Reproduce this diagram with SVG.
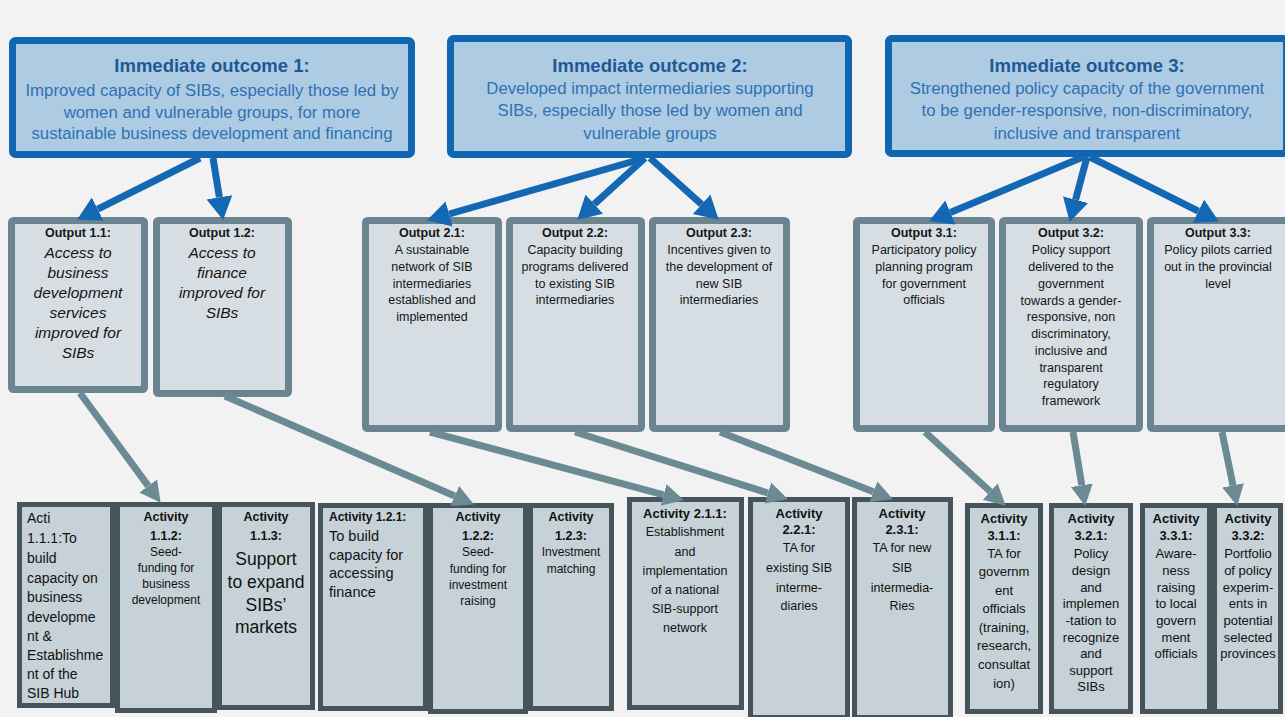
<svg xmlns="http://www.w3.org/2000/svg" width="1285" height="717" viewBox="0 0 1285 717">
<defs>
<marker id="bh" markerUnits="userSpaceOnUse" markerWidth="24" markerHeight="28" refX="0" refY="13" orient="auto" viewBox="0 0 24 26">
<path d="M0,0 L23,13 L0,26 z" fill="#1467b3"/>
</marker>
<marker id="gh" markerUnits="userSpaceOnUse" markerWidth="22" markerHeight="24" refX="0" refY="11" orient="auto" viewBox="0 0 22 22">
<path d="M0,0 L21,11 L0,22 z" fill="#6b8a94"/>
</marker>
</defs>
<style>
text{font-family:"Liberation Sans",Arial,sans-serif;}
.oc{fill:#aecbe4;stroke:#1166b1;stroke-width:7;}
.ot{fill:#1c5a93;font-size:18.5px;font-weight:bold;text-anchor:middle;}
.ob{fill:#2e72b3;font-size:16.8px;text-anchor:middle;}
.op{fill:#d7dee3;stroke:#6b8590;stroke-width:7;}
.pt{fill:#151515;font-size:12.5px;font-weight:bold;text-anchor:middle;}
.pb{fill:#151515;font-size:12.5px;text-anchor:middle;}
.pi{fill:#151515;font-size:15.5px;font-style:italic;text-anchor:middle;}
.ac{fill:#c6d1d8;stroke:#46555c;stroke-width:5;}
.at{fill:#111;font-size:12.5px;font-weight:bold;text-anchor:middle;}
.ab{fill:#111;font-size:12px;text-anchor:middle;}
.a3{fill:#111;font-size:13px;text-anchor:middle;}
.bl{stroke:#1467b3;stroke-width:7;fill:none;marker-end:url(#bh);}
.gl{stroke:#6b8a94;stroke-width:7;fill:none;marker-end:url(#gh);}
</style>
<rect x="0" y="0" width="1285" height="717" fill="#f2f2f2"/>

<g id="outcome1">
<rect class="oc" x="12.5" y="40.5" width="399" height="114" rx="3"/>
<text class="ot" x="212" y="72">Immediate outcome 1:</text>
<text class="ob" x="212" y="96">Improved capacity of SIBs, especially those led by</text>
<text class="ob" x="212" y="118">women and vulnerable groups, for more</text>
<text class="ob" x="212" y="139">sustainable business development and financing</text>
</g>
<g id="outcome2">
<rect class="oc" x="450.5" y="38.5" width="398" height="116" rx="3"/>
<text class="ot" x="650" y="72">Immediate outcome 2:</text>
<text class="ob" x="650" y="94">Developed impact intermediaries supporting</text>
<text class="ob" x="650" y="116">SIBs, especially those led by women and</text>
<text class="ob" x="650" y="139">vulnerable groups</text>
</g>
<g id="outcome3">
<rect class="oc" x="888.5" y="38.5" width="398" height="115" rx="3"/>
<text class="ot" x="1087" y="72">Immediate outcome 3:</text>
<text class="ob" x="1087" y="94">Strengthened policy capacity of the government</text>
<text class="ob" x="1087" y="116">to be gender-responsive, non-discriminatory,</text>
<text class="ob" x="1087" y="139">inclusive and transparent</text>
</g>

<g id="output1-1">
<rect class="op" x="11.5" y="220.5" width="133" height="169" rx="2"/>
<text class="pt" x="78" y="237">Output 1.1:</text>
<text class="pi" x="78" y="258">Access to</text>
<text class="pi" x="78" y="278">business</text>
<text class="pi" x="78" y="298">development</text>
<text class="pi" x="78" y="318">services</text>
<text class="pi" x="78" y="338">improved for</text>
<text class="pi" x="78" y="358">SIBs</text>
</g>
<g id="output1-2">
<rect class="op" x="156.5" y="220.5" width="132" height="173" rx="2"/>
<text class="pt" x="222" y="237">Output 1.2:</text>
<text class="pi" x="222" y="258">Access to</text>
<text class="pi" x="222" y="278">finance</text>
<text class="pi" x="222" y="298">improved for</text>
<text class="pi" x="222" y="318">SIBs</text>
</g>
<g id="output2-1">
<rect class="op" x="365.5" y="220.5" width="133" height="208" rx="2"/>
<text class="pt" x="432" y="237">Output 2.1:</text>
<text class="pb" x="432" y="254">A sustainable</text>
<text class="pb" x="432" y="271">network of SIB</text>
<text class="pb" x="432" y="288">intermediaries</text>
<text class="pb" x="432" y="304">established and</text>
<text class="pb" x="432" y="321">implemented</text>
</g>
<g id="output2-2">
<rect class="op" x="509.5" y="220.5" width="132" height="208" rx="2"/>
<text class="pt" x="575" y="237">Output 2.2:</text>
<text class="pb" x="575" y="254">Capacity building</text>
<text class="pb" x="575" y="271">programs delivered</text>
<text class="pb" x="575" y="288">to existing SIB</text>
<text class="pb" x="575" y="304">intermediaries</text>
</g>
<g id="output2-3">
<rect class="op" x="652.5" y="220.5" width="134" height="208" rx="2"/>
<text class="pt" x="719" y="237">Output 2.3:</text>
<text class="pb" x="719" y="254">Incentives given to</text>
<text class="pb" x="719" y="271">the development of</text>
<text class="pb" x="719" y="288">new SIB</text>
<text class="pb" x="719" y="304">intermediaries</text>
</g>
<g id="output3-1">
<rect class="op" x="856.5" y="220.5" width="135" height="208" rx="2"/>
<text class="pt" x="924" y="237">Output 3.1:</text>
<text class="pb" x="924" y="254">Participatory policy</text>
<text class="pb" x="924" y="271">planning program</text>
<text class="pb" x="924" y="288">for government</text>
<text class="pb" x="924" y="304">officials</text>
</g>
<g id="output3-2">
<rect class="op" x="1002.5" y="220.5" width="137" height="208" rx="2"/>
<text class="pt" x="1071" y="237">Output 3.2:</text>
<text class="pb" x="1071" y="254">Policy support</text>
<text class="pb" x="1071" y="271">delivered to the</text>
<text class="pb" x="1071" y="288">government</text>
<text class="pb" x="1071" y="305">towards a gender-</text>
<text class="pb" x="1071" y="321">responsive, non</text>
<text class="pb" x="1071" y="338">discriminatory,</text>
<text class="pb" x="1071" y="355">inclusive and</text>
<text class="pb" x="1071" y="372">transparent</text>
<text class="pb" x="1071" y="388">regulatory</text>
<text class="pb" x="1071" y="405">framework</text>
</g>
<g id="output3-3">
<rect class="op" x="1150.5" y="220.5" width="138" height="208" rx="2"/>
<text class="pt" x="1218" y="237">Output 3.3:</text>
<text class="pb" x="1218" y="254">Policy pilots carried</text>
<text class="pb" x="1218" y="271">out in the provincial</text>
<text class="pb" x="1218" y="288">level</text>
</g>

<g id="activity1-1-1">
<rect class="ac" x="19.5" y="504.5" width="93" height="201"/>
<g style="font-size:14px;fill:#111;">
<text x="27" y="523">Acti</text>
<text x="27" y="543">1.1.1:To</text>
<text x="27" y="563">build</text>
<text x="27" y="583">capacity on</text>
<text x="27" y="602">business</text>
<text x="27" y="622">developme</text>
<text x="27" y="641">nt &amp;</text>
<text x="27" y="660">Establishme</text>
<text x="27" y="679">nt of the</text>
<text x="27" y="698">SIB Hub</text>
</g>
</g>
<g id="activity1-1-2">
<rect class="ac" x="117.5" y="504.5" width="97" height="206"/>
<text class="at" x="166" y="521">Activity</text>
<text class="at" x="166" y="540">1.1.2:</text>
<text class="ab" x="166" y="556">Seed-</text>
<text class="ab" x="166" y="572">funding for</text>
<text class="ab" x="166" y="588">business</text>
<text class="ab" x="166" y="604">development</text>
</g>
<g id="activity1-1-3">
<rect class="ac" x="219.5" y="504.5" width="93" height="203"/>
<text class="at" x="266" y="521">Activity</text>
<text class="at" x="266" y="540">1.1.3:</text>
<text class="ab" x="266" y="565" style="font-size:17.5px">Support</text>
<text class="ab" x="266" y="588" style="font-size:17.5px">to expand</text>
<text class="ab" x="266" y="611" style="font-size:17.5px">SIBs’</text>
<text class="ab" x="266" y="633" style="font-size:17.5px">markets</text>
</g>
<g id="activity1-2-1">
<rect class="ac" x="320.5" y="505.5" width="105" height="203"/>
<text class="at" x="329" y="521" style="text-anchor:start;font-size:12px">Activity 1.2.1:</text>
<g style="font-size:14.5px;fill:#111;">
<text x="329" y="541">To build</text>
<text x="329" y="560">capacity for</text>
<text x="329" y="578">accessing</text>
<text x="329" y="597">finance</text>
</g>
</g>
<g id="activity1-2-2">
<rect class="ac" x="430.5" y="505.5" width="95" height="206"/>
<text class="at" x="478" y="521">Activity</text>
<text class="at" x="478" y="540">1.2.2:</text>
<text class="ab" x="478" y="556">Seed-</text>
<text class="ab" x="478" y="573">funding for</text>
<text class="ab" x="478" y="589">investment</text>
<text class="ab" x="478" y="605">raising</text>
</g>
<g id="activity1-2-3">
<rect class="ac" x="530.5" y="505.5" width="81" height="203"/>
<text class="at" x="571" y="521">Activity</text>
<text class="at" x="571" y="540">1.2.3:</text>
<text class="ab" x="571" y="556">Investment</text>
<text class="ab" x="571" y="573">matching</text>
</g>
<g id="activity2-1-1">
<rect class="ac" x="629.5" y="499.5" width="112" height="208"/>
<text class="at" x="685" y="518" style="font-size:13px">Activity 2.1.1:</text>
<text class="ab" x="685" y="536" style="font-size:12.5px">Establishment</text>
<text class="ab" x="685" y="556" style="font-size:12.5px">and</text>
<text class="ab" x="685" y="575" style="font-size:12.5px">implementation</text>
<text class="ab" x="685" y="594" style="font-size:12.5px">of a national</text>
<text class="ab" x="685" y="613" style="font-size:12.5px">SIB-support</text>
<text class="ab" x="685" y="632" style="font-size:12.5px">network</text>
</g>
<g id="activity2-2-1">
<rect class="ac" x="750.5" y="499.5" width="97" height="218"/>
<text class="at" x="799" y="518" style="font-size:13px">Activity</text>
<text class="at" x="799" y="534" style="font-size:13px">2.2.1:</text>
<text class="ab" x="799" y="552" style="font-size:12.5px">TA for</text>
<text class="ab" x="799" y="572" style="font-size:12.5px">existing SIB</text>
<text class="ab" x="799" y="592" style="font-size:12.5px">interme-</text>
<text class="ab" x="799" y="610" style="font-size:12.5px">diaries</text>
</g>
<g id="activity2-3-1">
<rect class="ac" x="854.5" y="499.5" width="96" height="218"/>
<text class="at" x="902" y="518" style="font-size:13px">Activity</text>
<text class="at" x="902" y="534" style="font-size:13px">2.3.1:</text>
<text class="ab" x="902" y="552" style="font-size:12.5px">TA  for new</text>
<text class="ab" x="902" y="572" style="font-size:12.5px">SIB</text>
<text class="ab" x="902" y="592" style="font-size:12.5px">intermedia-</text>
<text class="ab" x="902" y="610" style="font-size:12.5px">Ries</text>
</g>
<g id="activity3-1-1">
<rect class="ac" x="967.5" y="505.5" width="73" height="206"/>
<text class="at" x="1004" y="523" style="font-size:13px">Activity</text>
<text class="at" x="1004" y="540" style="font-size:13px">3.1.1:</text>
<text class="a3" x="1004" y="558">TA for</text>
<text class="a3" x="1004" y="576">governm</text>
<text class="a3" x="1004" y="595">ent</text>
<text class="a3" x="1004" y="613">officials</text>
<text class="a3" x="1004" y="632">(training,</text>
<text class="a3" x="1004" y="650">research,</text>
<text class="a3" x="1004" y="669">consultat</text>
<text class="a3" x="1004" y="688">ion)</text>
</g>
<g id="activity3-2-1">
<rect class="ac" x="1051.5" y="505.5" width="79" height="206"/>
<text class="at" x="1091" y="523" style="font-size:13px">Activity</text>
<text class="at" x="1091" y="540" style="font-size:13px">3.2.1:</text>
<text class="a3" x="1091" y="558">Policy</text>
<text class="a3" x="1091" y="575">design</text>
<text class="a3" x="1091" y="592">and</text>
<text class="a3" x="1091" y="608">implemen</text>
<text class="a3" x="1091" y="625">-tation to</text>
<text class="a3" x="1091" y="642">recognize</text>
<text class="a3" x="1091" y="658">and</text>
<text class="a3" x="1091" y="675">support</text>
<text class="a3" x="1091" y="691">SIBs</text>
</g>
<g id="activity3-3-1">
<rect class="ac" x="1142.5" y="505.5" width="67" height="206"/>
<text class="at" x="1176" y="523" style="font-size:13px">Activity</text>
<text class="at" x="1176" y="540" style="font-size:13px">3.3.1:</text>
<text class="a3" x="1176" y="558">Aware-</text>
<text class="a3" x="1176" y="575">ness</text>
<text class="a3" x="1176" y="592">raising</text>
<text class="a3" x="1176" y="608">to local</text>
<text class="a3" x="1176" y="625">govern</text>
<text class="a3" x="1176" y="642">ment</text>
<text class="a3" x="1176" y="658">officials</text>
</g>
<g id="activity3-3-2">
<rect class="ac" x="1214.5" y="505.5" width="66" height="206"/>
<text class="at" x="1248" y="523" style="font-size:13px">Activity</text>
<text class="at" x="1248" y="540" style="font-size:13px">3.3.2:</text>
<text class="a3" x="1248" y="558">Portfolio</text>
<text class="a3" x="1248" y="575">of policy</text>
<text class="a3" x="1248" y="592">experim-</text>
<text class="a3" x="1248" y="608">ents in</text>
<text class="a3" x="1248" y="625">potential</text>
<text class="a3" x="1248" y="642">selected</text>
<text class="a3" x="1248" y="658">provinces</text>
</g>

<g id="connectors">
<line class="bl" x1="200" y1="158" x2="97.7" y2="209.2"/>
<line class="bl" x1="213" y1="158" x2="219.4" y2="197.3"/>
<line class="bl" x1="645" y1="158" x2="449.1" y2="214"/>
<line class="bl" x1="645" y1="158" x2="594.3" y2="204.2"/>
<line class="bl" x1="650" y1="158" x2="701.6" y2="204.3"/>
<line class="bl" x1="1083" y1="157" x2="950.3" y2="212.5"/>
<line class="bl" x1="1087" y1="157" x2="1075.6" y2="199.7"/>
<line class="bl" x1="1090" y1="157" x2="1198.3" y2="211.2"/>
<line class="gl" x1="80" y1="393" x2="148.2" y2="485.9"/>
<line class="gl" x1="225" y1="396" x2="454.7" y2="496"/>
<line class="gl" x1="430" y1="432" x2="663.7" y2="494.8"/>
<line class="gl" x1="575" y1="432" x2="767.9" y2="493"/>
<line class="gl" x1="720" y1="432" x2="873.4" y2="491.7"/>
<line class="gl" x1="925" y1="432" x2="990.2" y2="491.5"/>
<line class="gl" x1="1073" y1="432" x2="1081.8" y2="485.3"/>
<line class="gl" x1="1222" y1="432" x2="1233" y2="485.4"/>
</g>
</svg>
